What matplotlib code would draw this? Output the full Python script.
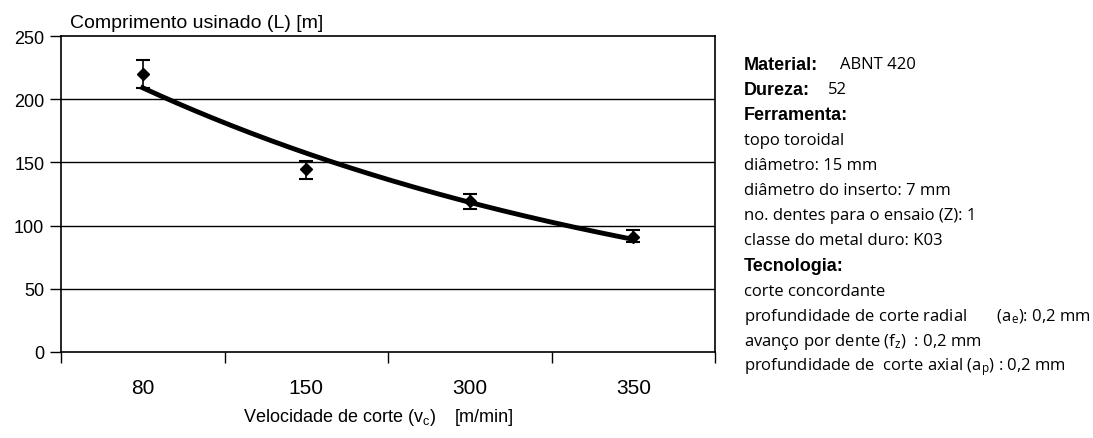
import matplotlib
matplotlib.use('Agg')
import matplotlib.pyplot as plt
import numpy as np

plt.rcParams['font.family'] = ['Liberation Sans', 'DejaVu Sans']
plt.rcParams['mathtext.default'] = 'regular'

# data
vel_labels = ['80', '150', '300', '350']
comprimento = [220, 145, 119.5, 91]
erro_min = [209, 137, 113, 87]
erro_max = [231, 151, 125, 96.5]
y_ticks = [0, 50, 100, 150, 200, 250]

info_lines = [
    ('Material:', 'ABNT 420'),
    ('Dureza:', '52'),
    ('Ferramenta:', ''),
    ('', 'topo toroidal'),
    ('', 'diâmetro: 15 mm'),
    ('', 'diâmetro do inserto: 7 mm'),
    ('', 'no. dentes para o ensaio (Z): 1'),
    ('', 'classe do metal duro: K03'),
    ('Tecnologia:', ''),
    ('', 'corte concordante'),
    ('', 'profundidade de corte radial       (a$_e$): 0,2 mm'),
    ('', 'avanço por dente (f$_z$)  : 0,2 mm'),
    ('', 'profundidade de  corte axial (a$_p$) : 0,2 mm'),
]

x = np.arange(1, len(vel_labels) + 1)
y = np.array(comprimento)
yerr = [y - np.array(erro_min), np.array(erro_max) - y]

# exponential trend line (Excel style) fitted to the points
b, ln_a = np.polyfit(x, np.log(y), 1)
xt = np.linspace(x[0], x[-1], 200)
yt = np.exp(ln_a) * np.exp(b * xt)

fig = plt.figure(figsize=(10.93, 4.39), dpi=100)
ax = fig.add_axes([0.0558, 0.1959, 0.5984, 0.7198])

for g in [50, 100, 150, 200]:
    ax.axhline(g, color='black', linewidth=1.0, zorder=1)

ax.plot(xt, yt, color='black', linewidth=3.5, zorder=2)
ax.errorbar(x, y, yerr=yerr, fmt='D', color='black', markersize=6,
            ecolor='black', elinewidth=1.2, capsize=5, capthick=1.5, zorder=3)

ax.set_xlim(0.5, 4.5)
ax.set_ylim(0, 250)
ax.set_yticks(y_ticks)
ax.set_yticklabels([str(t) for t in y_ticks], fontsize=13)
ax.set_xticks(np.arange(0.5, 5.0, 1.0))
ax.set_xticklabels([])
ax.tick_params(axis='x', direction='out', length=8, width=1)
ax.tick_params(axis='y', direction='out', length=8, width=1, pad=4)
for i, lab in enumerate(vel_labels):
    ax.text(x[i], -28, lab, ha='center', va='center', fontsize=15)

for s in ax.spines.values():
    s.set_color('black')
    s.set_linewidth(1.2)

fig.text(70 / 1093, 1 - 23 / 439, 'Comprimento usinado (L) [m]', ha='left', va='center', fontsize=14)
fig.text(243 / 1093, 1 - 418 / 439, 'Velocidade de corte (v$_c$)', ha='left', va='center', fontsize=13)
fig.text(455 / 1093, 1 - 418 / 439, '[m/min]', ha='left', va='center', fontsize=13)

y0 = 65
for i, (bold, normal) in enumerate(info_lines):
    yy = 1 - (y0 + i * 25.2) / 439
    xx = 744 / 1093
    if bold:
        fig.text(xx, yy, bold, ha='left', va='center', fontsize=13, fontweight='bold')
        if normal:
            fig.text(xx + (96 if bold == 'Material:' else 84) / 1093, yy, normal, ha='left', va='center',
                     fontsize=12, family=['Open Sans', 'DejaVu Sans'])
    else:
        fig.text(xx, yy, normal, ha='left', va='center', fontsize=12, family=['Open Sans', 'DejaVu Sans'])

fig.savefig('out.png', dpi=100)
